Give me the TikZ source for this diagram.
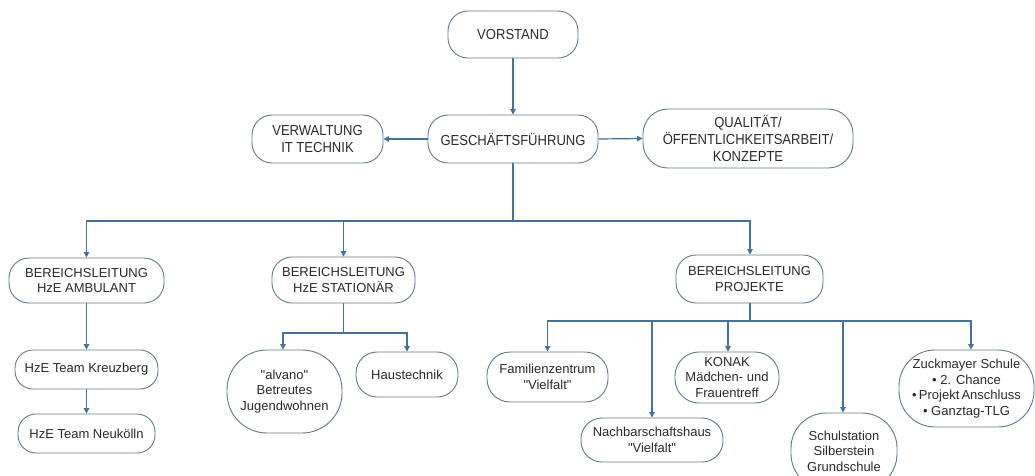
\documentclass[tikz,border=0pt]{standalone}
\usepackage{fontspec}
\setmainfont{Liberation Sans}[Ligatures=TeXOff]
\newfontfamily\topfont[FakeStretch=0.9,Ligatures=TeXOff]{Liberation Sans}
\usetikzlibrary{arrows.meta}
\definecolor{boxline}{HTML}{5B7A90}
\definecolor{conn}{HTML}{41739C}
\definecolor{txt}{HTML}{2A2A2A}
\tikzset{
  box/.style={draw=boxline, line width=0.9pt, fill=white, text=txt, align=center, inner sep=0pt, rounded corners=20pt},
  topbox/.style={box, font={\topfont\fontsize{14.5}{17}\selectfont}},
  lowbox/.style={box, font={\fontsize{13}{15.6}\selectfont}},
  conline/.style={draw=conn, line width=1.2pt},
  arr/.style={conline, -{Triangle[length=5.5pt,width=5.5pt]}},
}
\begin{document}
\begin{tikzpicture}[x=1pt,y=-1pt]
\useasboundingbox[fill=white] (0,0) rectangle (1035,475);
% top level
\node[topbox, minimum width=130pt, minimum height=47pt] (vor) at (513,34.5) {VORSTAND};
\node[topbox, minimum width=170pt, minimum height=48pt] (gf) at (513,139) {GESCHÄFTSFÜHRUNG};
\node[topbox, minimum width=131pt, minimum height=48pt] (ver) at (317.5,139) {VERWALTUNG\\IT TECHNIK};
\node[topbox, minimum width=210pt, minimum height=59pt, rounded corners=25pt] (qua) at (748,138.5) {QUALITÄT/\\ÖFFENTLICHKEITSARBEIT/\\KONZEPTE};
% second level
\node[lowbox, minimum width=155pt, minimum height=45pt] (amb) at (86.5,280.5) {BEREICHSLEITUNG\\HzE AMBULANT};
\node[lowbox, minimum width=143pt, minimum height=46pt] (sta) at (343.5,280) {BEREICHSLEITUNG\\HzE STATIONÄR};
\node[lowbox, minimum width=147pt, minimum height=48pt] (pro) at (749.5,279) {BEREICHSLEITUNG\\PROJEKTE};
% ambulant
\node[lowbox, minimum width=143pt, minimum height=39pt, rounded corners=18pt] (kre) at (86.5,369.5) {HzE Team Kreuzberg};
\node[lowbox, minimum width=137pt, minimum height=39pt, rounded corners=18pt] (neu) at (86.5,433.5) {HzE Team Neukölln};
% stationaer
\node[lowbox, minimum width=115pt, minimum height=83pt, rounded corners=40pt] (alv) at (284.5,391.5) {"alvano"\\Betreutes\\Jugendwohnen};
\node[lowbox, minimum width=102pt, minimum height=45pt, rounded corners=21pt] (hau) at (407,374.5) {Haustechnik};
% projekte
\node[lowbox, minimum width=121pt, minimum height=50pt, rounded corners=23pt] (fam) at (547.5,377) {Familienzentrum\\"Vielfalt"};
\node[lowbox, minimum width=142pt, minimum height=44pt, rounded corners=21pt] (nach) at (652,440) {Nachbarschaftshaus\\"Vielfalt"};
\node[lowbox, minimum width=104pt, minimum height=51pt, rounded corners=24pt] (kon) at (727,377.5) {KONAK\\Mädchen- und\\Frauentreff};
\node[lowbox, minimum width=106pt, minimum height=76pt, rounded corners=35pt] (sch) at (844,451) {Schulstation\\Silberstein\\Grundschule};
\node[lowbox, minimum width=135pt, minimum height=77pt, rounded corners=36pt] (zuc) at (966.5,388.5) {Zuckmayer Schule\\\textbullet\ 2. Chance\\\textbullet\,Projekt\,Anschluss\\\textbullet\ Ganztag-TLG};
% connectors
\draw[arr] (vor.south) -- (gf.north);
\draw[arr] (gf.west) -- (ver.east);
\draw[arr] (gf.east) -- (qua.west);
\coordinate (bus) at (513,221);
\draw[conline] (gf.south) -- (bus);
\draw[arr] (bus) -| (amb.north);
\draw[arr] (bus) -| (sta.north);
\draw[arr] (bus) -| ([xshift=0.5pt]pro.north);
\draw[arr] (amb.south) -- (kre.north);
\draw[arr] (kre.south) -- (neu.north);
\coordinate (sbus) at (343.5,333);
\draw[conline] (sta.south) -- (sbus);
\draw[arr] (sbus) -| ([xshift=-1.5pt]alv.north);
\draw[arr] (sbus) -| (hau.north);
\coordinate (pbus) at (750,321);
\draw[conline] ([xshift=0.5pt]pro.south) -- (pbus);
\draw[arr] (pbus) -| (fam.north);
\draw[arr] (pbus) -| (nach.north);
\draw[arr] (pbus) -| ([xshift=1pt]kon.north);
\draw[arr] (pbus) -| ([xshift=-1pt]sch.north);
\draw[arr] (pbus) -| ([xshift=4.5pt]zuc.north);
\end{tikzpicture}
\end{document}
